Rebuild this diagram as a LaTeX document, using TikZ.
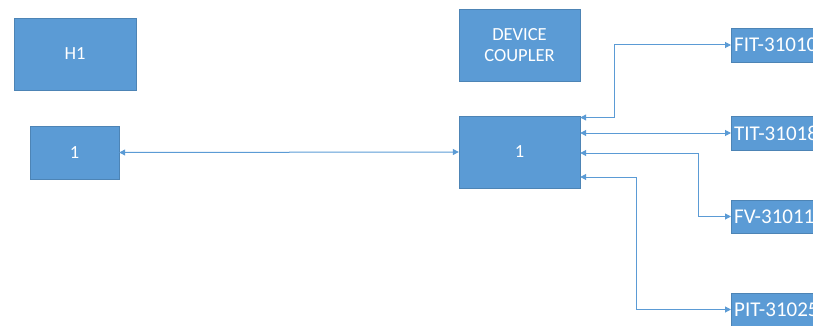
\documentclass[tikz,border=0pt]{standalone}
\usepackage{fontspec}
\setmainfont{Carlito}
\definecolor{boxblue}{HTML}{5B9BD5}
\definecolor{lineblue}{HTML}{5B9BD5}
\usetikzlibrary{arrows.meta}
\begin{document}
\begin{tikzpicture}[x=1pt,y=-1pt,
  blk/.style={draw=boxblue!85!black, line width=0.4pt, fill=boxblue, text=white, font=\fontsize{18.5}{22}\selectfont, align=center, inner sep=0pt},
  tag/.style={blk, anchor=west, text width=92pt, align=left, inner xsep=3pt, inner ysep=0pt, font=\fontsize{21}{24}\selectfont},
  bconn/.style={draw=lineblue, line width=1pt, {Triangle[length=6pt,width=6pt]}-{Triangle[length=6pt,width=6pt]}}]
\useasboundingbox (0,0) rectangle (813,326);
\clip (0,0) rectangle (813,326);
\node[blk, minimum width=122pt, minimum height=72pt] (h1) at (75,54) {H1};
\node[blk, minimum width=89pt, minimum height=53pt] (n1) at (74.5,152.5) {1};
\node[blk, minimum width=121pt, minimum height=72pt] (dc) at (519.5,45) {DEVICE\\[-1pt]COUPLER};
\node[blk, minimum width=121pt, minimum height=72pt] (n2) at (519.5,152) {1};
\node[tag, minimum height=34pt] (fit) at (731,45) {FIT-31010};
\node[tag, minimum height=34pt] (tit) at (731,133) {TIT-31018};
\node[tag, minimum height=33pt] (fv) at (731,216.5) {FV-31011};
\node[tag, minimum height=33pt] (pit) at (731,309.5) {PIT-31025};
\draw[bconn] (n1.east) -- (n2.west);
\draw[bconn] (n2.east |- 0,117.5) -| (614,45) -- (fit.west);
\draw[bconn] (n2.east |- tit.west) -- (tit.west);
\draw[bconn] (n2.east |- 0,153) -| (698,216.5) -- (fv.west);
\draw[bconn] (n2.east |- 0,177) -| (636,309.5) -- (pit.west);
\end{tikzpicture}
\end{document}
